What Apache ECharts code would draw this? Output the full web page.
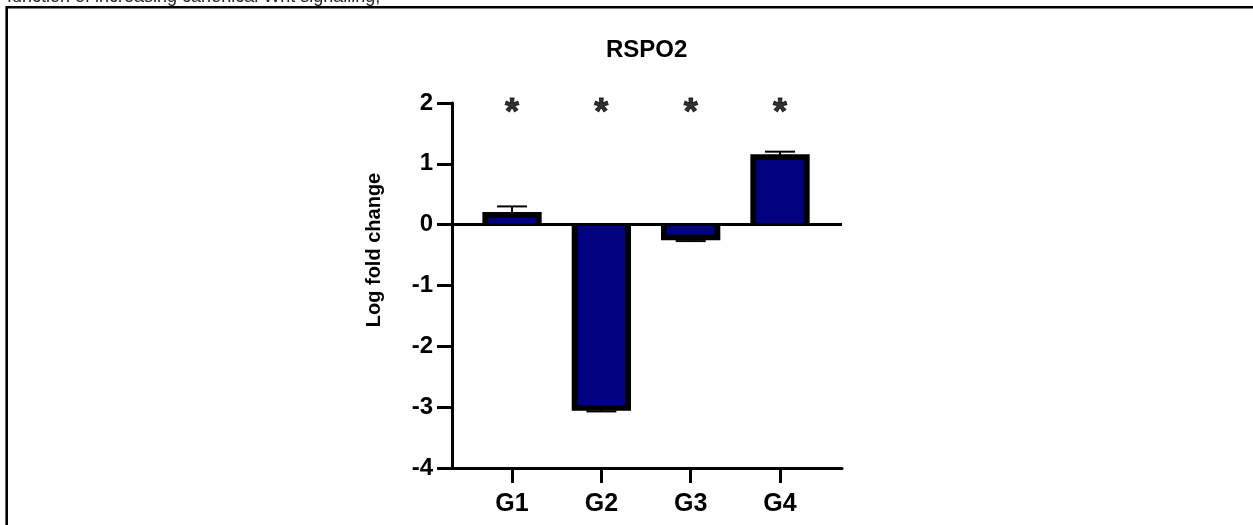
<!DOCTYPE html>
<html>
<head>
<meta charset="utf-8">
<script src="https://cdn.jsdelivr.net/npm/echarts@6/dist/echarts.min.js"></script>
<style>
  html, body { margin: 0; padding: 0; background: #fff; }
  #main { width: 1253px; height: 525px; }
</style>
</head>
<body>
<div id="main"></div>
<script>
const groups = ['G1', 'G2', 'G3', 'G4']
const logFold = [0.16, -3.01, -0.21, 1.11]
const sem = [0.14, 0.06, 0.06, 0.09]
const sigMarks = ['*', '*', '*', '*']
const yMin = -4
const yMax = 2

const FONT = '"Liberation Sans", Arial, sans-serif'

const chart = echarts.init(document.getElementById('main'))

// groups sit at x = 1..4 on a value axis so the axis line can run past them
const barData = groups.map((g, i) => [i + 1, logFold[i]])
const errData = groups.map((g, i) => [i + 1, logFold[i], sem[i]])
const starData = groups.map((g, i) => [i + 1, yMax])

// bar outline is open on the baseline side, like the prism style
function renderBar(params, api) {
  const x = api.value(0)
  const v = api.value(1)
  const top = api.coord([x, v])
  const base = api.coord([x, 0])
  const hw = 26.75
  const y0 = Math.min(top[1], base[1])
  const h = Math.abs(top[1] - base[1])
  return {
    type: 'group',
    children: [
      {
        type: 'rect',
        shape: { x: top[0] - hw, y: y0, width: hw * 2, height: h },
        style: { fill: '#000080' },
      },
      {
        type: 'polyline',
        shape: {
          points: [
            [top[0] - hw, base[1]],
            [top[0] - hw, top[1]],
            [top[0] + hw, top[1]],
            [top[0] + hw, base[1]],
          ],
        },
        style: { stroke: '#000', lineWidth: 5.8, fill: null, lineJoin: 'miter', lineCap: 'butt' },
      },
    ],
  }
}

// one-sided error bar, pointing away from zero
function renderErr(params, api) {
  const x = api.value(0)
  const mean = api.value(1)
  const err = api.value(2)
  const end = mean + (mean < 0 ? -err : err)
  const p0 = api.coord([x, mean])
  const p1 = api.coord([x, end])
  const half = 15
  const style = { stroke: '#000', lineWidth: 2 }
  return {
    type: 'group',
    children: [
      { type: 'line', shape: { x1: p0[0], y1: p0[1], x2: p1[0], y2: p1[1] }, style: style },
      { type: 'line', shape: { x1: p1[0] - half, y1: p1[1], x2: p1[0] + half, y2: p1[1] }, style: style },
    ],
  }
}

const option = {
  animation: false,
  title: {
    text: 'RSPO2',
    left: 606,
    top: 38,
    padding: 0,
    textStyle: { fontFamily: FONT, fontSize: 24, fontWeight: 'bold', color: '#000' },
  },
  grid: { left: 452, right: 411, top: 103, bottom: 57 },
  xAxis: {
    type: 'value',
    min: 0.328,
    max: 4.694,
    splitLine: { show: false },
    axisLine: { onZero: false, lineStyle: { color: '#000', width: 3 } },
    axisTick: { customValues: [1, 2, 3, 4], length: 15, lineStyle: { color: '#000', width: 3 } },
    axisLabel: {
      customValues: [1, 2, 3, 4],
      formatter: (v) => groups[Math.round(v) - 1],
      margin: 24,
      fontFamily: FONT,
      fontSize: 25,
      fontWeight: 'bold',
      color: '#000',
    },
  },
  yAxis: {
    type: 'value',
    min: yMin,
    max: yMax,
    interval: 1,
    splitLine: { show: false },
    axisLine: { show: true, onZero: false, lineStyle: { color: '#000', width: 3 } },
    axisTick: { show: true, length: 15, lineStyle: { color: '#000', width: 3 } },
    axisLabel: { margin: 19, fontFamily: FONT, fontSize: 24, fontWeight: 'bold', color: '#000' },
  },
  graphic: [
    {
      type: 'polyline',
      shape: { points: [[6.7, 525], [6.7, 7.2], [1253, 7.2]] },
      style: { stroke: '#000', lineWidth: 2.6, fill: null },
      silent: true,
    },
    {
      type: 'text',
      x: 7,
      y: 6,
      style: {
        text: 'function of increasing canonical Wnt signalling;',
        font: '18px ' + FONT,
        fill: '#222',
        verticalAlign: 'bottom',
      },
      silent: true,
    },
    {
      type: 'text',
      x: 374,
      y: 250,
      rotation: Math.PI / 2,
      style: {
        text: 'Log fold change',
        font: 'bold 20px ' + FONT,
        fill: '#000',
        align: 'center',
        verticalAlign: 'middle',
      },
      silent: true,
    },
  ],
  series: [
    {
      type: 'custom',
      data: barData,
      renderItem: renderBar,
      markLine: {
        silent: true,
        symbol: 'none',
        label: { show: false },
        lineStyle: { color: '#000', width: 3, type: 'solid' },
        data: [{ yAxis: 0 }],
      },
      z: 2,
    },
    {
      type: 'custom',
      data: errData,
      renderItem: renderErr,
      z: 3,
    },
    {
      type: 'scatter',
      data: starData,
      symbolSize: 1,
      itemStyle: { color: 'rgba(0,0,0,0)' },
      label: {
        show: true,
        position: 'inside',
        formatter: (p) => sigMarks[p.dataIndex],
        offset: [0, 11],
        fontFamily: FONT,
        fontSize: 36,
        fontWeight: 'bold',
        color: '#000',
        textBorderColor: '#000',
        textBorderWidth: 1,
      },
      z: 4,
    },
  ],
}

chart.setOption(option)
</script>
</body>
</html>
